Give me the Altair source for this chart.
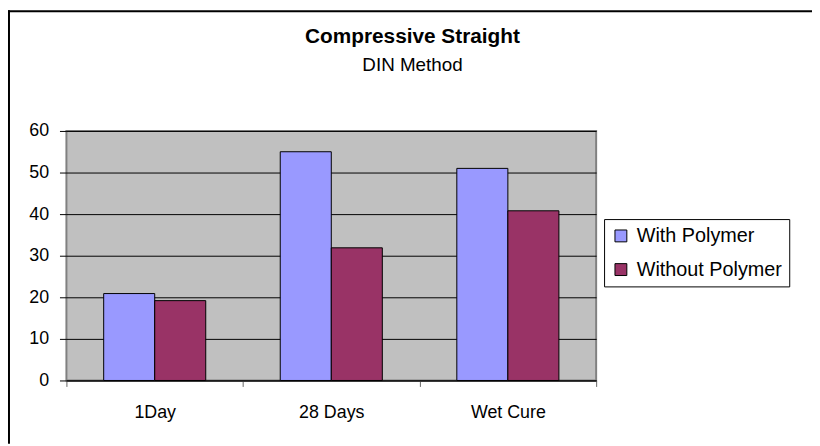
import altair as alt
import pandas as pd

categories = ["1Day", "28 Days", "Wet Cure"]
series = ["With Polymer", "Without Polymer"]
with_polymer = [20.9, 55.0, 51.0]
without_polymer = [19.2, 31.9, 40.8]
y_ticks = [0, 10, 20, 30, 40, 50, 60]
colors = ["#9999FF", "#993366"]

rows = []
for c, a, b in zip(categories, with_polymer, without_polymer):
    rows.append({"cat": c, "series": series[0], "value": a})
    rows.append({"cat": c, "series": series[1], "value": b})
df = pd.DataFrame(rows)

FONT = "Liberation Sans"
W, H = 535, 252
PL, PT, PR, PB = 59, 122, 218, 64

bars = alt.Chart(df).mark_bar(stroke="black", strokeWidth=1).encode(
    x=alt.X("cat:N", sort=categories,
            scale=alt.Scale(paddingInner=0, paddingOuter=0),
            axis=alt.Axis(title=None, labelAngle=0, tickBand="extent", tickSize=6,
                          tickColor="#666666", domainColor="#000000", labelPadding=17,
                          labelFontSize=18, labelFont=FONT, labelColor="black", grid=False)),
    xOffset=alt.XOffset("series:N", sort=series,
                        scale=alt.Scale(paddingInner=0, paddingOuter=0.73)),
    y=alt.Y("value:Q", scale=alt.Scale(domain=[0, 60], nice=False),
            axis=alt.Axis(values=y_ticks, title=None, grid=True, gridColor="black",
                          gridOpacity=1, tickColor="black", tickSize=7, labelPadding=11,
                          labelFontSize=18, labelFont=FONT, labelColor="black", domain=False)),
    color=alt.Color("series:N", sort=series,
                    scale=alt.Scale(domain=series, range=colors),
                    legend=alt.Legend(title=None, orient="none", legendX=543, legendY=89,
                                      strokeColor="black", fillColor="white", padding=7,
                                      symbolType="square", symbolSize=144,
                                      symbolStrokeColor="black", symbolStrokeWidth=1,
                                      labelFontSize=20, labelFont=FONT, labelColor="black",
                                      rowPadding=14, labelOffset=6)),
)

frame_top = alt.Chart(alt.Data(values=[{}])).mark_rule(color="black", strokeWidth=2).encode(
    x=alt.value(-PL), x2=alt.value(W + PR), y=alt.value(-PT + 1))
frame_left = alt.Chart(alt.Data(values=[{}])).mark_rule(color="black", strokeWidth=2).encode(
    x=alt.value(-PL + 1), y=alt.value(-PT), y2=alt.value(H + PB))

chart = alt.layer(bars, frame_top, frame_left).properties(
    width=W, height=H,
    autosize=alt.AutoSizeParams(type="none"),
    padding={"left": PL, "top": PT, "right": PR, "bottom": PB},
    title=alt.TitleParams("Compressive Straight", subtitle="DIN Method", font=FONT,
                          fontSize=21, fontWeight="bold", color="black",
                          subtitleFont=FONT, subtitleFontSize=19, subtitleColor="black",
                          anchor="middle", dx=82, offset=-66, subtitlePadding=9),
).configure(
    background="white"
).configure_view(
    fill="#C0C0C0", stroke="#808080", strokeWidth=2
)

chart.save("out.html", embed_options={"renderer": "svg", "actions": False})
